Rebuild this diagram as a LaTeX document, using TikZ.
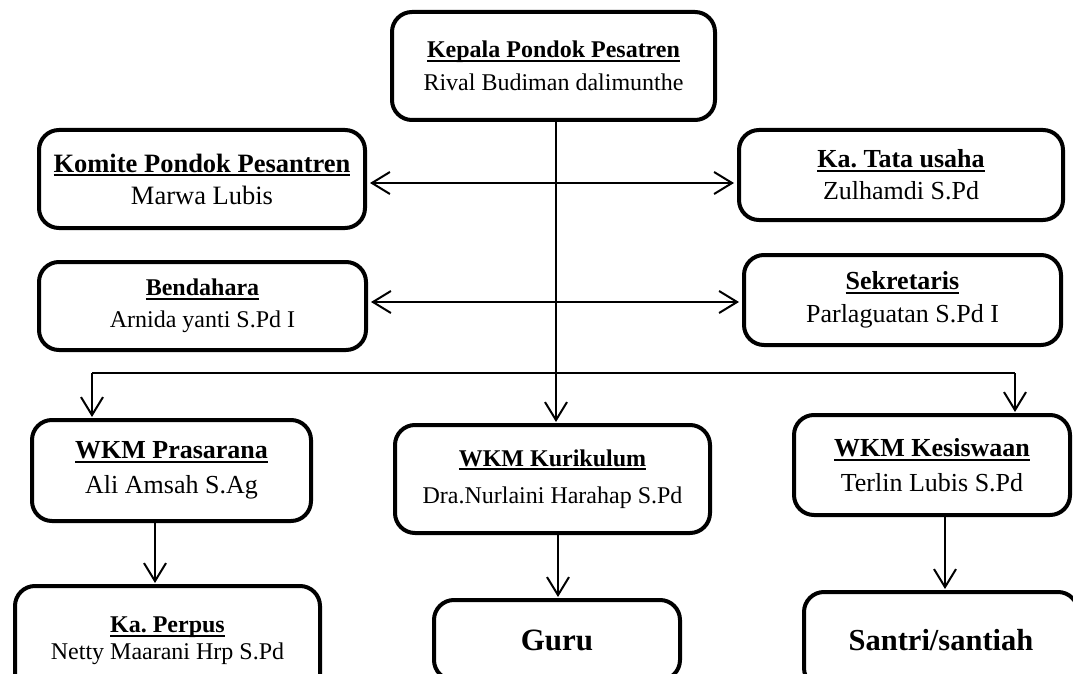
\documentclass[tikz,border=0pt]{standalone}
\usepackage{fontspec}
\setmainfont{Liberation Serif}
\usetikzlibrary{arrows.meta}
\frenchspacing
\newcommand\uln[1]{\leavevmode\setbox0=\hbox{#1}\rlap{\rule[-0.16em]{\wd0}{0.075em}}\box0}
\newcommand\ttl[2]{\textbf{\uln{#1}}\\#2}
\tikzset{
  orgbox/.style={draw, line width=4pt, rounded corners=20pt, inner sep=0pt, outer sep=0pt, align=center},
  fs/.style 2 args={font=\fontsize{#1}{#2}\selectfont},
  ln/.style={line width=2pt},
  arr/.style={line width=2pt, -{Straight Barb[length=18pt,width=22pt]}, shorten >=3pt},
  dbl/.style={line width=2pt, {Straight Barb[length=18pt,width=22pt]}-{Straight Barb[length=18pt,width=22pt]}, shorten >=5pt, shorten <=5pt}
}
\begin{document}
\begin{tikzpicture}[x=1pt,y=-1pt]
\useasboundingbox (0,0) rectangle (1073,674);
\clip (0,0) rectangle (1073,674);
\fill[white] (0,0) rectangle (1073,674);
% nodes
\node[orgbox, fs={24}{33}, minimum width=323pt, minimum height=108pt] (kepala) at (553.5,66) {\ttl{Kepala Pondok Pesatren}{Rival Budiman dalimunthe}};
\node[orgbox, fs={26.5}{32}, minimum width=326pt, minimum height=98pt] (komite) at (202,179) {\ttl{Komite Pondok Pesantren}{Marwa Lubis}};
\node[orgbox, fs={24}{32}, minimum width=327pt, minimum height=88pt] (bendahara) at (202.5,306) {\ttl{Bendahara}{Arnida yanti S.Pd I}};
\node[orgbox, fs={26}{32}, minimum width=324pt, minimum height=90pt] (tata) at (901,175) {\ttl{Ka. Tata usaha}{Zulhamdi S.Pd}};
\node[orgbox, fs={26}{33}, minimum width=317pt, minimum height=90pt] (sekretaris) at (902.5,300) {\ttl{Sekretaris}{Parlaguatan S.Pd I}};
\node[orgbox, fs={26}{35}, minimum width=279pt, minimum height=101pt] (prasarana) at (171.5,470.5) {\ttl{WKM Prasarana}{Ali Amsah S.Ag}};
\node[orgbox, fs={24}{37}, minimum width=315pt, minimum height=108pt] (kurikulum) at (552.5,479) {\ttl{WKM Kurikulum}{Dra.Nurlaini Harahap S.Pd}};
\node[orgbox, fs={26}{35}, minimum width=276pt, minimum height=100pt] (kesiswaan) at (932,465) {\ttl{WKM Kesiswaan}{Terlin Lubis S.Pd}};
\node[orgbox, fs={24}{27}, minimum width=305pt, minimum height=110pt] (perpus) at (167.5,641) {\ttl{Ka. Perpus}{Netty Maarani Hrp S.Pd}};
\node[orgbox, fs={31}{36}, minimum width=246pt, minimum height=80pt] (guru) at (557,640) {\textbf{Guru}};
\node[orgbox, fs={30.5}{36}, minimum width=274pt, minimum height=96pt] (santri) at (941,640) {\textbf{Santri/santiah}};
% coordinates
\coordinate (spine) at (556,0);
\coordinate (ya) at (0,183);
\coordinate (yb) at (0,302);
\coordinate (jl) at (92,373);
\coordinate (jr) at (1015,373);
% connectors
\draw[arr] (kepala.south -| spine) -- (kurikulum.north -| spine);
\draw[dbl] (komite.east |- ya) -- (tata.west |- ya);
\draw[dbl] (bendahara.east |- yb) -- (sekretaris.west |- yb);
\draw[ln] (jl) -- (jr);
\draw[arr] (jl) -- (prasarana.north -| jl);
\draw[arr] (jr) -- (kesiswaan.north -| jr);
\draw[arr] (prasarana.south -| 155,0) -- (perpus.north -| 155,0);
\draw[arr] (kurikulum.south -| 558,0) -- (guru.north -| 558,0);
\draw[arr] (kesiswaan.south -| 945,0) -- (santri.north -| 945,0);
\end{tikzpicture}
\end{document}
